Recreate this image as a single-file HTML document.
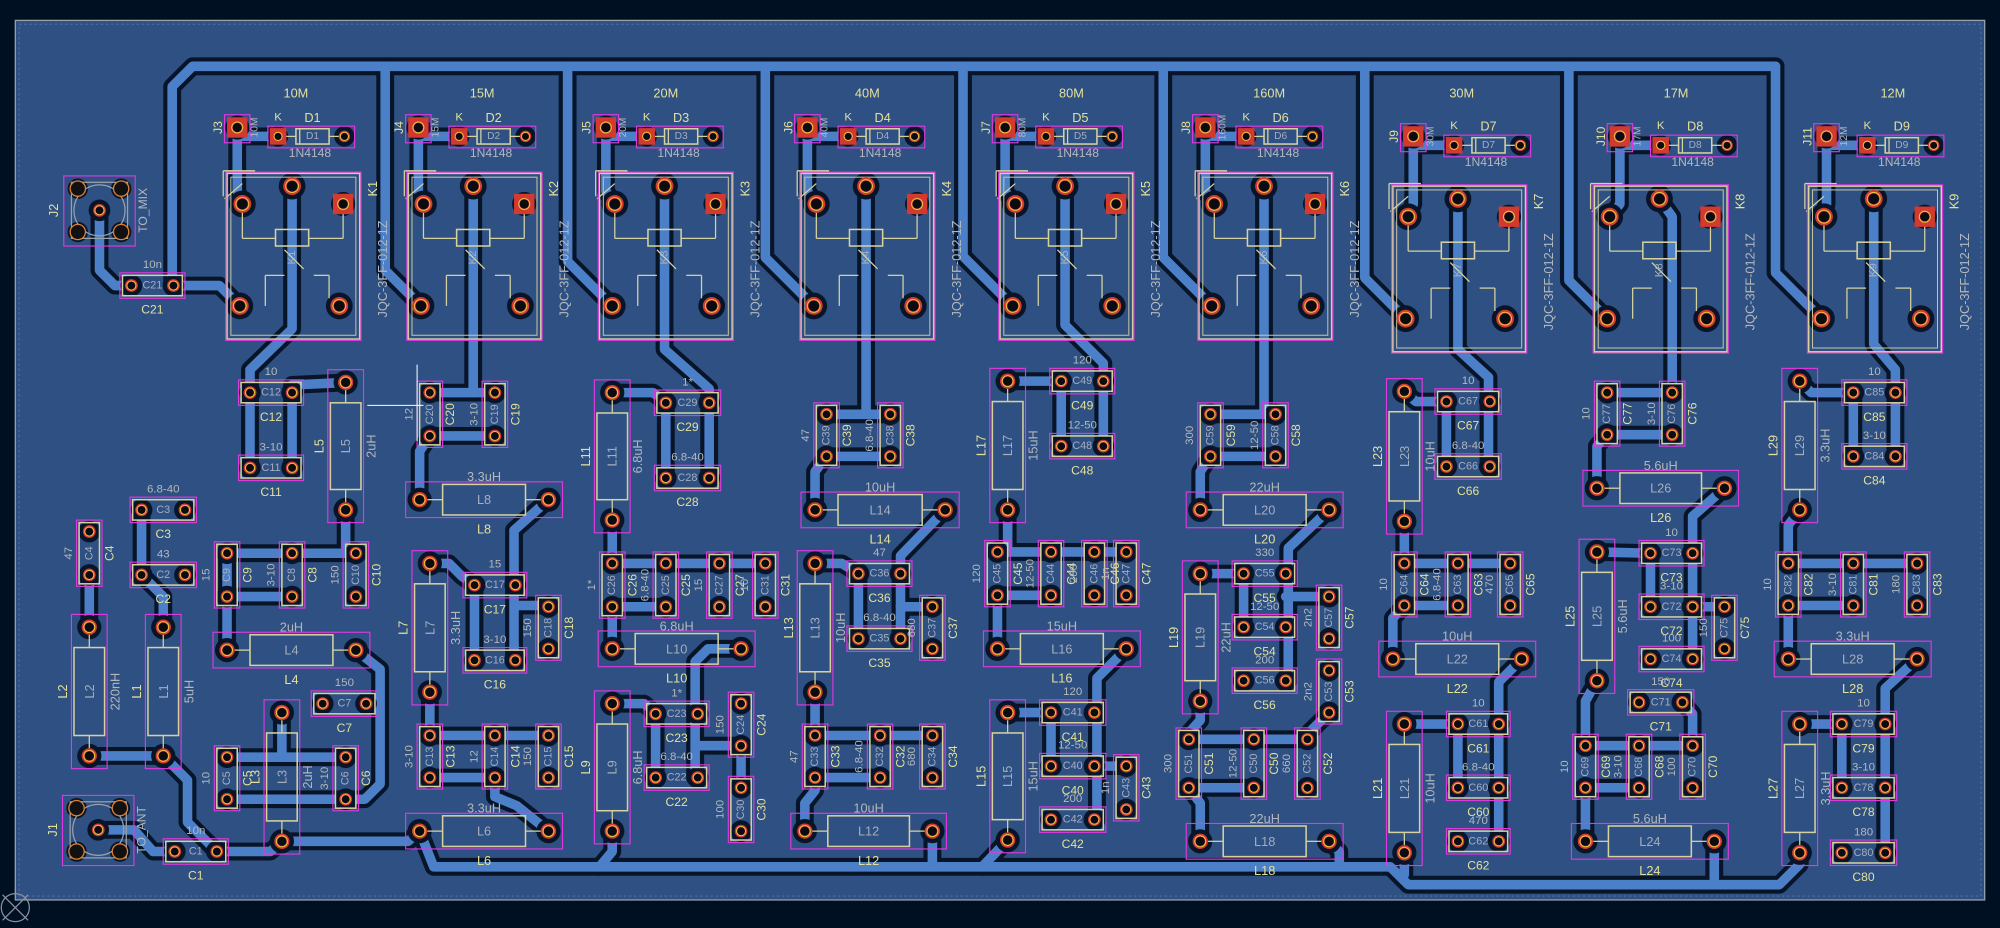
<!DOCTYPE html>
<html><head><meta charset="utf-8"><style>
html,body{margin:0;padding:0;background:#001023;overflow:hidden}
svg{display:block}
text{font-family:"Liberation Sans",sans-serif}
</style></head><body>
<svg id="s" xmlns="http://www.w3.org/2000/svg" width="2000" height="928" viewBox="0 0 1568 728" preserveAspectRatio="none"></svg>
<script>
const L={cl:[],tr:[],pc:[],silk:[],pad:[],crt:[],txt:[]};
const Y='#e4e09a',G='#b4b8bc',GI='#a6aebb',SK='#d6d2a0',M='#e038e0';
function tr(p){const d=p.map(a=>a.join(',')).join(' ');L.cl.push(`<polyline points="${d}"/>`);L.tr.push(`<polyline points="${d}"/>`);}
function pad(x,y,r,sq){r=r||5;L.pc.push(`<circle cx="${x}" cy="${y}" r="${r+3.5}"/>`);
 if(sq)L.pad.push(`<rect x="${x-r-2}" y="${y-r-2}" width="${2*r+4}" height="${2*r+4}" fill="#d23a30"/>`);
 else L.pad.push(`<circle cx="${x}" cy="${y}" r="${r}" fill="#d23a30"/>`);
 L.pad.push(`<circle cx="${x}" cy="${y}" r="${r*0.72}" fill="none" stroke="#e8c040" stroke-width="0.8"/><circle cx="${x}" cy="${y}" r="${r*0.6}" fill="#0b0b12"/>`);}
function t(x,y,s,c,sz,rot){sz=sz||9;const tf=rot?` transform="rotate(${rot} ${x} ${y})"`:'';L.txt.push(`<text x="${x}" y="${y}" fill="${c}" font-size="${sz}" text-anchor="middle" dominant-baseline="central"${tf}>${s}</text>`);}
function rect(a,x,y,w,h,c,sw){a.push(`<rect x="${x}" y="${y}" width="${w}" height="${h}" fill="none" stroke="${c}" stroke-width="${sw||1}"/>`);}
function line(x1,y1,x2,y2,c){L.silk.push(`<line x1="${x1}" y1="${y1}" x2="${x2}" y2="${y2}" stroke="${c||SK}" stroke-width="1"/>`);}
function capH(x1,x2,y,r,v){pad(x1,y);pad(x2,y);rect(L.silk,x1-7,y-8,x2-x1+14,16,SK,1.2);rect(L.crt,x1-9,y-10,x2-x1+18,20,M,0.9);
 const m=(x1+x2)/2;t(m,y,r,GI,8.5);t(m,y+19,r,Y,9.5);t(m,y-16,v,G,9);}
function capV(x,y1,y2,r,v){pad(x,y1);pad(x,y2);rect(L.silk,x-8,y1-7,16,y2-y1+14,SK,1.2);rect(L.crt,x-10,y1-9,20,y2-y1+18,M,0.9);
 const m=(y1+y2)/2;t(x,m,r,GI,8.5,-90);t(x+16,m,r,Y,9.5,-90);t(x-16,m,v,G,9,-90);}
function indV(x,y1,y2,r,v){pad(x,y1,6);pad(x,y2,6);line(x,y1+6,x,y1+16);line(x,y2-6,x,y2-16);rect(L.silk,x-12,y1+16,24,y2-y1-32,SK,1.2);
 rect(L.crt,x-14,y1-10,28,y2-y1+20,M,0.9);const m=(y1+y2)/2;t(x,m,r,GI,10,-90);t(x-21,m,r,Y,10,-90);t(x+20,m,v,G,10,-90);}
function indH(x1,x2,y,r,v){pad(x1,y,6);pad(x2,y,6);line(x1+6,y,x1+18,y);line(x2-6,y,x2-18,y);rect(L.silk,x1+18,y-12,x2-x1-36,24,SK,1.2);
 rect(L.crt,x1-11,y-14,x2-x1+22,28,M,0.9);const m=(x1+x2)/2;t(m,y,r,GI,10);t(m,y+23,r,Y,10);t(m,y-18,v,G,10);}
function relay(x,y,n){rect(L.silk,x,y,104,130,SK,1.2);rect(L.silk,x+3,y+3,98,124,'#c8c4a0',0.8);rect(L.crt,x-1,y-1,106,132,M,0.9);
 line(x-3,y-2,x+22,y-2);line(x-3,y-2,x-3,y+18);line(x-2,y+20,x+12,y+8);
 rect(L.silk,x+38,y+44,26,13,SK,1.2);line(x+12,y+24,x+12,y+51);line(x+12,y+51,x+38,y+51);line(x+64,y+51,x+91,y+51);line(x+91,y+24,x+91,y+51);
 line(x+45,y+60,x+60,y+75);line(x+30,y+80,x+30,y+104);line(x+30,y+80,x+45,y+80);line(x+68,y+80,x+80,y+80);line(x+80,y+80,x+80,y+98);
 pad(x+12,y+24,7);pad(x+51,y+10,7);pad(x+91,y+24,6,true);pad(x+10,y+104,7);pad(x+88,y+104,7);
 t(x+51,y+66,'K'+n,GI,9,-90);t(x+114,y+12,'K'+n,Y,10,-90);t(x+122,y+75,'JQC-3FF-012-1Z',G,10,-90);}
function jd(jx,jy,jn,dn,band){pad(jx,jy,6,true);pad(jx+32,jy+7,4.5,true);pad(jx+84,jy+7,4.5);
 rect(L.silk,jx+46,jy+1,26,12,SK,1.2);line(jx+49,jy+1,jx+49,jy+13);line(jx+37,jy+7,jx+46,jy+7);line(jx+72,jy+7,jx+80,jy+7);
 rect(L.crt,jx-10,jy-10,20,22,M,0.9);rect(L.crt,jx+24,jy-1,68,17,M,0.9);
 t(jx-15,jy,'J'+jn,Y,9.5,-90);t(jx+14,jy,band,G,8,-90);t(jx+32,jy-8,'K',Y,9);t(jx+59,jy-8,'D'+dn,Y,10);t(jx+59,jy+7,'D'+dn,GI,8);t(jx+57,jy+20,'1N4148',G,9.5);}
function sma(x,y,n,lab){rect(L.crt,x-28,y-27,56,55,M,0.9);rect(L.silk,x-22,y-22,44,44,'#9aa0a8',1);L.silk.push(`<circle cx="${x}" cy="${y}" r="20" fill="none" stroke="#9aa0a8"/>`);
 [[-17,-17],[17,-17],[-17,17],[17,17]].forEach(d=>{L.pc.push(`<circle cx="${x+d[0]}" cy="${y+d[1]}" r="8" fill="#0b1628"/>`);L.pad.push(`<circle cx="${x+d[0]}" cy="${y+d[1]}" r="6" fill="#111" stroke="#e08030" stroke-width="1"/>`);});
 pad(x,y,5);t(x-36,y,n,Y,10,-90);t(x+34,y,lab,G,9.5,-90);}
// ---- top ----
const bands=[['10M',232],['15M',378],['20M',522],['40M',680],['80M',840],['160M',995],['30M',1146],['17M',1314],['12M',1484]];
bands.forEach(b=>t(b[1],73,b[0],Y,10));
const R=[[178,136],[320,136],[470,136],[628,136],[784,136],[940,136],[1092,146],[1250,146],[1418,146]];
const J=[[186,100],[328,100],[475,100],[633,100],[788,100],[945,100],[1108,107],[1270,107],[1432,107]];
const drops=[0,302,445,600,755,912,1070,1230,1392];
tr([[135,224],[135,68],[151,52],[1392,52]]);
tr([[103,224],[90,224],[78,212],[78,165]]);
tr([[136,224],[172,224],[188,240]]);
R.forEach((r,i)=>{const px=r[0]+10,py=r[1]+104;if(i>0){const X=drops[i];tr([[X,52],[X,py-(px-X)],[px,py]]);}
 const j=J[i];tr([[j[0],j[1]+7],[j[0]+32,j[1]+7]]);tr([[j[0],j[1]],[j[0],r[1]+14],[r[0]+12,r[1]+24]]);});
// ---- column traces ----
const T=[
// col1
[[229,146],[229,258],[196,290],[196,367]],[[229,367],[229,302],[271,300]],[[271,400],[271,434]],[[178,434],[279,434]],[[178,468],[229,468]],[[178,434],[178,510]],
[[279,510],[298,525],[298,615],[286,627],[178,627]],[[178,594],[271,594]],[[221,559],[221,594]],
[[170,668],[212,668],[221,660],[320,660],[329,652]],
[[70,451],[70,492]],[[111,400],[111,451],[128,468],[128,492]],[[70,593],[128,593]],[[128,593],[147,612],[147,645],[170,668]],
[[77,651],[105,651],[120,668],[137,668]],
// col2
[[371,146],[371,308]],[[337,308],[388,308]],[[337,342],[388,342]],[[337,342],[329,354],[329,392]],
[[430,392],[403,416],[403,518]],[[404,475],[430,475]],[[337,442],[352,442],[362,452],[372,459],[372,518]],
[[337,543],[337,577]],[[337,577],[430,577]],[[337,610],[388,610]],[[388,610],[388,625],[405,632],[425,648],[430,652]],
// col3
[[521,146],[521,274],[556,305],[556,375]],[[522,316],[522,375]],[[480,308],[512,308],[522,316]],
[[480,408],[480,442]],[[480,442],[600,442]],[[480,476],[522,476]],[[480,476],[480,509]],
[[581,509],[555,509],[545,519],[545,610]],[[545,585],[581,585]],[[514,560],[514,610]],[[480,552],[505,552],[514,560]],[[581,585],[581,618]],
[[480,652],[480,668],[470,680]],
// col4
[[679,146],[679,325]],[[648,325],[698,325]],[[648,358],[698,358]],[[648,358],[639,370],[639,400]],
[[741,400],[706,436],[706,501]],[[706,476],[731,476]],[[639,442],[660,442],[673,450],[673,501]],
[[639,543],[639,577]],[[639,577],[731,577]],[[639,610],[690,610]],[[639,610],[639,620],[631,630],[631,652]],[[731,652],[731,680]],
// col5
[[835,146],[835,255],[865,285],[865,350]],[[832,299],[832,350]],[[790,299],[832,299]],
[[790,400],[790,433]],[[782,433],[883,433]],[[782,467],[824,467]],[[782,467],[782,509]],
[[883,509],[860,532],[860,643]],[[858,601],[883,601]],[[790,559],[824,559],[824,601]],[[790,659],[770,680]],
// col6
[[991,146],[991,325]],[[949,325],[1000,325]],[[949,358],[1000,358]],[[949,358],[941,370],[941,400]],
[[1042,400],[1010,430],[1010,534]],[[1008,468],[1042,468]],[[941,450],[975,450],[975,492]],
[[941,550],[941,565],[932,575],[932,580]],[[932,580],[1025,580]],[[1042,559],[1025,576]],[[932,618],[983,618]],[[932,618],[941,630],[941,660]],
[[1042,660],[1050,668],[1050,680]],
// col7
[[1143,156],[1143,274],[1167,296],[1167,366]],[[1134,315],[1134,366]],[[1101,307],[1110,315],[1134,315]],
[[1101,409],[1101,442]],[[1101,442],[1184,442]],[[1101,475],[1143,475]],[[1101,475],[1092,485],[1092,517]],
[[1193,517],[1175,535],[1175,660]],[[1101,568],[1143,568],[1143,618]],
// col8
[[1301,156],[1311,170],[1311,308]],[[1260,308],[1311,308]],[[1260,341],[1311,341]],[[1260,341],[1252,350],[1252,383]],
[[1352,383],[1327,405],[1327,517]],[[1327,476],[1352,476]],[[1252,433],[1294,434],[1294,476]],
[[1252,534],[1243,550],[1243,585]],[[1243,585],[1327,585]],[[1319,551],[1327,560],[1327,585]],[[1243,618],[1285,618]],[[1243,618],[1243,660]],
[[1344,660],[1344,694]],
// col9
[[1469,156],[1469,270],[1486,290],[1486,358]],[[1453,308],[1453,358]],[[1411,299],[1420,308],[1453,308]],
[[1411,400],[1402,412],[1402,442]],[[1402,442],[1503,442]],[[1402,475],[1453,475]],[[1402,475],[1402,517]],
[[1503,517],[1478,540],[1478,669]],[[1411,568],[1444,568],[1444,618]],
// bus
[[329,652],[340,680],[1090,680],[1104,694],[1395,694],[1411,678],[1411,669]],[[1101,669],[1101,686]]
];
T.forEach(tr);
// ---- components ----
R.forEach((r,i)=>relay(r[0],r[1],i+1));
J.forEach((j,i)=>jd(j[0],j[1],i+3,i+1,bands[i][0]));
sma(78,165,'J2','TO_MIX');sma(77,651,'J1','TO_ANT');
const C=[
['h',196,229,308,'C12','10'],['h',196,229,367,'C11','3-10'],['iv',271,300,400,'L5','2uH'],
['v',178,434,468,'C9','15'],['v',229,434,468,'C8','3-10'],['v',279,434,468,'C10','150'],['ih',178,279,510,'L4','2uH'],
['h',253,287,552,'C7','150'],['v',178,594,627,'C5','10'],['v',271,594,627,'C6','3-10'],['iv',221,559,660,'L3','2uH'],
['v',70,417,451,'C4','47'],['h',111,145,400,'C3','6.8-40'],['h',111,145,451,'C2','43'],
['iv',70,492,593,'L2','220nH'],['iv',128,492,593,'L1','5uH'],['h',137,170,668,'C1','10n'],['h',103,136,224,'C21','10n'],
['v',337,308,342,'C20','12'],['v',388,308,342,'C19','3-10'],['ih',329,430,392,'L8','3.3uH'],['iv',337,442,543,'L7','3.3uH'],
['h',372,404,459,'C17','15'],['h',372,404,518,'C16','3-10'],['v',430,476,509,'C18','150'],
['v',337,577,610,'C13','3-10'],['v',388,577,610,'C14','12'],['v',430,577,610,'C15','150'],['ih',329,430,652,'L6','3.3uH'],
['iv',480,308,408,'L11','6.8uH'],['h',522,556,316,'C29','1*'],['h',522,556,375,'C28','6.8-40'],
['v',480,442,476,'C26','1*'],['v',522,442,476,'C25','6.8-40'],['v',564,442,476,'C27','15'],['v',600,442,476,'C31','10'],
['ih',480,581,509,'L10','6.8uH'],['iv',480,552,652,'L9','6.8uH'],['h',514,547,560,'C23','1*'],['h',514,547,610,'C22','6.8-40'],
['v',581,552,585,'C24','150'],['v',581,618,652,'C30','100'],
['v',648,325,358,'C39','47'],['v',698,325,358,'C38','6.8-40'],['ih',639,741,400,'L14','10uH'],['iv',639,442,543,'L13','10uH'],
['h',673,706,450,'C36','47'],['h',673,706,501,'C35','6.8-40'],['v',731,476,509,'C37','680'],
['v',639,577,610,'C33','47'],['v',690,577,610,'C32','6.8-40'],['v',731,577,610,'C34','680'],['ih',631,731,652,'L12','10uH'],
['iv',790,299,400,'L17','15uH'],['h',832,865,299,'C49','120'],['h',832,865,350,'C48','12-50'],
['v',782,433,467,'C45','120'],['v',824,433,467,'C44','12-50'],['v',858,433,467,'C46','200'],['v',883,433,467,'C47','1n'],
['ih',782,883,509,'L16','15uH'],['iv',790,559,659,'L15','15uH'],['h',824,858,559,'C41','120'],['h',824,858,601,'C40','12-50'],
['h',824,858,643,'C42','200'],['v',883,601,635,'C43','1n'],
['v',949,325,358,'C59','300'],['v',1000,325,358,'C58','12-50'],['ih',941,1042,400,'L20','22uH'],['iv',941,450,550,'L19','22uH'],
['h',975,1008,450,'C55','330'],['h',975,1008,492,'C54','12-50'],['h',975,1008,534,'C56','200'],
['v',1042,468,501,'C57','2n2'],['v',1042,526,559,'C53','2n2'],
['v',932,580,618,'C51','300'],['v',983,580,618,'C50','12-50'],['v',1025,580,618,'C52','660'],['ih',941,1042,660,'L18','22uH'],
['iv',1101,307,409,'L23','10uH'],['h',1134,1168,315,'C67','10'],['h',1134,1168,366,'C66','6.8-40'],
['v',1101,442,475,'C64','10'],['v',1143,442,475,'C63','6.8-40'],['v',1184,442,475,'C65','470'],['ih',1092,1193,517,'L22','10uH'],
['iv',1101,568,669,'L21','10uH'],['h',1143,1175,568,'C61','10'],['h',1143,1175,618,'C60','6.8-40'],['h',1143,1175,660,'C62','470'],
['v',1260,308,341,'C77','10'],['v',1311,308,341,'C76','3-10'],['ih',1252,1352,383,'L26','5.6uH'],['iv',1252,433,534,'L25','5.6uH'],
['h',1294,1327,434,'C73','10'],['h',1294,1327,476,'C72','3-10'],['h',1294,1327,517,'C74','100'],['v',1352,476,509,'C75','150'],
['h',1285,1319,551,'C71','150'],['v',1243,585,618,'C69','10'],['v',1285,585,618,'C68','3-10'],['v',1327,585,618,'C70','100'],
['ih',1243,1344,660,'L24','5.6uH'],
['iv',1411,299,400,'L29','3.3uH'],['h',1453,1486,308,'C85','10'],['h',1453,1486,358,'C84','3-10'],
['v',1402,442,475,'C82','10'],['v',1453,442,475,'C81','3-10'],['v',1503,442,475,'C83','180'],['ih',1402,1503,517,'L28','3.3uH'],
['iv',1411,568,669,'L27','3.3uH'],['h',1444,1478,568,'C79','10'],['h',1444,1478,618,'C78','3-10'],['h',1444,1478,669,'C80','180']
];
C.forEach(c=>{const f={h:capH,v:capV,iv:indV,ih:indH}[c[0]];f(...c.slice(1));});
let s='';
s+=`<rect x="0" y="0" width="1568" height="728" fill="#001023"/>`;
s+=`<rect x="12" y="16" width="1544" height="690" fill="#2e5082" stroke="#9aa2ac" stroke-width="1"/>`;
s+=`<rect x="15" y="19" width="1538" height="684" fill="none" stroke="#4a6a98" stroke-width="1" stroke-dasharray="2 2"/>`;
s+=`<g fill="none" stroke="#081529" stroke-width="14" stroke-linejoin="round" stroke-linecap="round">${L.cl.join('')}</g>`;
s+=`<g fill="none" stroke="#4b80c9" stroke-width="7.5" stroke-linejoin="round" stroke-linecap="round">${L.tr.join('')}</g>`;
s+=`<g fill="#081529">${L.pc.join('')}</g>`;
s+=L.silk.join('')+L.pad.join('')+L.crt.join('')+L.txt.join('');
s+=`<line x1="288" y1="318" x2="332" y2="318" stroke="#fff" stroke-width="0.8"/><line x1="327" y1="286" x2="327" y2="346" stroke="#fff" stroke-width="0.8"/>`;
s+=`<circle cx="12" cy="712" r="11" fill="none" stroke="#8890a0"/><line x1="2" y1="702" x2="22" y2="722" stroke="#8890a0"/><line x1="22" y1="702" x2="2" y2="722" stroke="#8890a0"/>`;
document.getElementById('s').innerHTML=s;
</script>
</body></html>
